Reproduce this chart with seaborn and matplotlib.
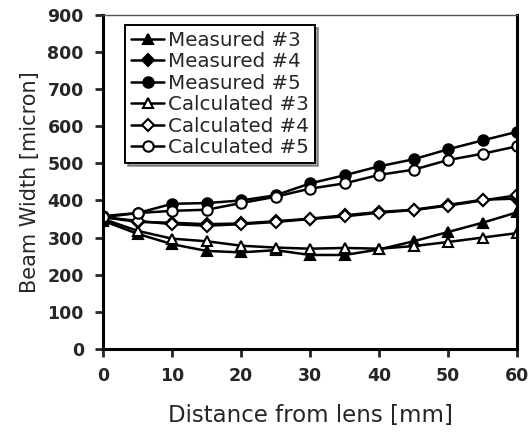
import matplotlib
matplotlib.use("Agg")
import matplotlib.pyplot as plt
import seaborn as sns
import pandas as pd

distance = [0, 5, 10, 15, 20, 25, 30, 35, 40, 45, 50, 55, 60]
measured_3 = [345, 310, 282, 264, 260, 266, 253, 253, 268, 290, 315, 340, 368]
measured_4 = [355, 342, 340, 336, 338, 344, 351, 360, 369, 375, 388, 402, 405]
measured_5 = [358, 366, 391, 393, 400, 414, 446, 468, 492, 511, 538, 562, 585]
calculated_3 = [350, 318, 297, 290, 278, 273, 270, 272, 270, 277, 288, 300, 312]
calculated_4 = [355, 345, 336, 332, 336, 342, 350, 357, 367, 374, 386, 400, 414]
calculated_5 = [355, 366, 372, 375, 393, 410, 432, 446, 469, 483, 509, 526, 546]

series = [
    ("Measured #3", measured_3, "^", "black"),
    ("Measured #4", measured_4, "D", "black"),
    ("Measured #5", measured_5, "o", "black"),
    ("Calculated #3", calculated_3, "^", "white"),
    ("Calculated #4", calculated_4, "D", "white"),
    ("Calculated #5", calculated_5, "o", "white"),
]

sns.set_style("ticks")
plt.rcParams['font.family'] = ['DejaVu Sans']

fig = plt.figure(figsize=(5.32, 4.41), dpi=100)
ax = fig.add_axes([0.194, 0.209, 0.778, 0.757])

for name, vals, mk, fc in series:
    df = pd.DataFrame({"x": distance, "y": vals})
    ms = 7.5 if mk != "D" else 6.5
    sns.lineplot(data=df, x="x", y="y", ax=ax, color="black", linewidth=1.8,
                 marker=mk, markersize=ms, markerfacecolor=fc,
                 markeredgecolor="black", markeredgewidth=1.5, label=name)

ax.set_xlim(0, 60)
ax.set_ylim(0, 900)
ax.set_xticks(range(0, 61, 10))
ax.set_yticks(range(0, 901, 100))
for s in ["left", "bottom", "right"]:
    ax.spines[s].set_linewidth(2.2)
    ax.spines[s].set_color("black")
ax.spines["top"].set_linewidth(1.0)
ax.spines["top"].set_color("#555555")
ax.tick_params(axis="both", direction="out", length=6, width=2, labelsize=12.5)
ax.tick_params(axis="x", pad=7)
ax.tick_params(axis="y", pad=8)
for lab in ax.get_xticklabels() + ax.get_yticklabels():
    lab.set_fontweight("bold")

ax.set_xlabel("Distance from lens [mm]", fontsize=16.5, labelpad=14)
ax.set_ylabel("Beam Width [micron]", fontsize=15, labelpad=5)

leg = ax.legend(loc="upper left", bbox_to_anchor=(0.052, 0.97), fontsize=14.3,
                frameon=True, fancybox=False, shadow=True, handlelength=1.7,
                handletextpad=0.2, labelspacing=0.12, borderpad=0.3,
                borderaxespad=0.0)
leg.get_frame().set_edgecolor("black")
leg.get_frame().set_linewidth(1.4)

fig.savefig("out.png", dpi=100)
